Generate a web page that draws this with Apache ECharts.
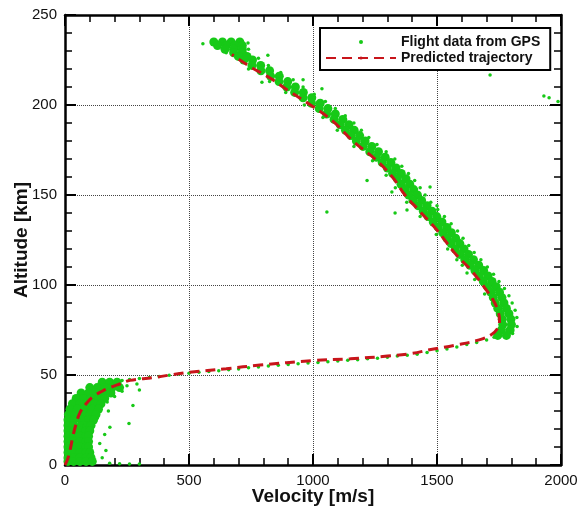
<!DOCTYPE html>
<html>
<head>
<meta charset="utf-8">
<script src="https://cdn.jsdelivr.net/npm/echarts@6/dist/echarts.min.js"></script>
<style>
  html, body { margin: 0; padding: 0; background: #fff; }
  #chart { width: 579px; height: 508px; }
</style>
</head>
<body>
<div id="chart"></div>
<script>
// predicted trajectory [velocity m/s, altitude km]
var predicted = [
  [0,0],[10,3],[20,8],[32,16],[45,23],[60,29],[85,34],[113,38],[150,41],[181,43],[220,45],[262,47],
  [355,48.5],[423,50],[500,51.5],[650,53.5],[786,55.5],[1000,58],[1150,59],[1300,60.5],[1400,62],
  [1470,64],[1570,66.5],[1670,69.5],[1720,72.5],[1745,76],[1752,80],[1745,86],[1725,92],[1700,97],
  [1645,107],[1570,118],[1500,130.5],[1430,141],[1371,150],[1320,160],[1250,170],[1160,180],
  [1080,191],[990,200],[900,208],[827,215],[750,221],[673,228]
];

// GPS points, dense part of the cloud
var gpsDense = [
  [600,235],[635,235],[670,235],[705,235],[615,233],[650,233],[685,233],[715,233],
  [645,231],[680,231],[715,231],[680,229],[715,229],[699,227],[734,227],[721,225],[756,225],
  [754,222],[789,222],[790,219],[825,219],[829,216],[864,216],[863,213],[898,213],
  [894,210],[929,210],[926,207],[961,207],[960,204],[995,204],[994,201],[1029,201],
  [1025,198],[1060,198],[1055,195],[1090,195],[1085,192],[1120,192],[1110,189],[1145,189],
  [1131,186],[1166,186],[1153,183],[1188,183],[1175,180],[1210,180],[1202,177],[1237,177],
  [1229,174],[1264,174],[1256,171],[1291,171],[1279,168],[1314,168],[1300,165],[1335,165],
  [1321,162],[1356,162],[1340,159],[1375,159],[1355,156],[1390,156],[1371,153],[1406,153],
  [1386,150],[1421,150],[1403,147],[1438,147],[1425,144],[1460,144],[1445,141],[1480,141],
  [1464,138],[1499,138],[1485,135],[1520,135],[1505,132],[1540,132],[1523,129],[1558,129],
  [1540,126],[1575,126],[1557,123],[1592,123],[1574,120],[1609,120],[1592,117],[1627,117],
  [1612,114],[1647,114],[1633,111],[1668,111],[1653,108],[1688,108],[1671,105],[1706,105],
  [1687,102],[1722,102],[1704,99],[1739,99],[1717,96],[1752,96],[1727,93],[1762,93],
  [1735,90],[1770,90],[1745,87],[1780,87],[1755,84],[1790,84],[1763,81],[1798,81],
  [1765,78],[1800,78],[1760,75],[1795,75],[1745,72],[1780,72],
  [150,46],[180,46],[210,46],
  [100,43],[130,43],[160,43],[190,43],[220,43],
  [65,40],[95,40],[125,40],[155,40],[185,40],
  [45,37],[75,37],[105,37],[135,37],[160,37],
  [30,34],[60,34],[90,34],[120,34],[145,34],
  [20,31],[50,31],[80,31],[110,31],[135,31],
  [14,28],[40,28],[70,28],[100,28],[125,28],
  [12,25],[35,25],[65,25],[95,25],[115,25],
  [12,22],[35,22],[65,22],[90,22],[105,22],
  [12,19],[35,19],[60,19],[85,19],[100,19],
  [12,16],[35,16],[60,16],[85,16],[95,16],
  [12,13],[35,13],[60,13],[85,13],[95,13],
  [12,10],[35,10],[60,10],[85,10],[95,10],
  [12,7],[35,7],[60,7],[85,7],[100,7],
  [12,4],[35,4],[60,4],[85,4],[105,4],
  [12,2],[35,2],[60,2],[85,2],[110,2]
];

// GPS points, scattered ones
var gpsSparse = [
  [556,234],[738,234.5],[818,227.7],[794,212.6],[960,214],[1036,209],[1056,140.5],[1218,158],
  [1318,151.7],[1331,140],[1379,141.7],[1472,154.4],[1500,144],[1621,106.7],[1580,114],
  [1714,216.7],[1931,205],[1952,204],[1988,202],
  [650,229],[740,220],[825,213],[890,207],[965,200],[1040,193],[1098,186],[1165,177],
  [1240,169],[1295,161],[1332,154],[1378,146],[1432,138],[1497,128],[1543,120],[1602,111],
  [1652,103],[1692,95],
  [740,231],[780,226],[820,222],[870,218],[920,214],[960,210],[1005,206],[1050,202],
  [1090,198],[1130,194],[1165,190],[1195,186],[1225,182],[1258,178],[1295,174],[1330,170],
  [1358,166],[1385,162],[1410,158],[1432,154],[1452,150],[1475,146],[1503,142],[1530,138],
  [1557,134],[1583,130],[1605,126],[1628,122],[1650,118],[1677,114],[1703,110],[1728,106],
  [1750,102],[1772,98],[1790,94],[1803,90],[1815,86],[1822,82],[1823,77],[1805,73],
  [1730,71],[1700,69.5],[1660,68],[1620,67],[1580,65.5],[1540,64.5],[1500,63.5],[1460,62.5],
  [1420,61.5],[1380,61],[1340,60.5],[1300,59.8],[1260,59.3],[1220,59],[1180,58.5],[1140,58.2],
  [1100,57.8],[1060,57.4],[1020,57],[980,56.6],[940,56.2],[900,55.8],[860,55.4],[820,55],
  [780,54.5],[740,54],[700,53.4],[660,52.9],[620,52.4],[580,52],[540,51.5],[500,51],
  [460,50.5],[420,49.8],[380,49.2],[340,48.6],[300,48],[260,47.5],[230,47],
  [290,45],[250,44],[300,41.6],[274,33],[181,21],[165,8],[258,23],[200,38],[230,41],
  [175,30],[160,17],[140,12],[150,4],[180,1],[220,0.7],[260,0.5],[300,0.5],[130,26],
  [170,35],[150,44.5]
];

var xTicks = [0, 2000, 500];
var yTicks = [0, 250, 50];

var green = '#17c917';
var red = '#c8151b';
var font = 'Liberation Sans, Arial, sans-serif';

var myChart = echarts.init(document.getElementById('chart'));

function valueAxis(ticks, pos, main) {
  return {
    type: 'value',
    position: pos,
    min: ticks[0],
    max: ticks[1],
    interval: ticks[2],
    axisLine: { show: true, onZero: false, lineStyle: { color: '#000', width: 2.5 } },
    axisTick: { show: true, inside: true, length: 11, lineStyle: { color: '#000', width: 2 } },
    minorTick: { show: true, splitNumber: 5, length: 7, lineStyle: { color: '#000', width: 1.5 } },
    axisLabel: {
      show: main, color: '#111', fontSize: 15, fontFamily: font, margin: 8,
      formatter: function (v) { return String(v); }
    },
    splitLine: { show: main, lineStyle: { color: '#444', type: 'dotted', width: 1 } }
  };
}

var xMain = valueAxis(xTicks, 'bottom', true);
xMain.name = 'Velocity [m/s]';
xMain.nameLocation = 'middle';
xMain.nameGap = 22;
xMain.nameMoveOverlap = false;
xMain.nameTextStyle = { color: '#111', fontSize: 19, fontWeight: 'bold', fontFamily: font };

var yMain = valueAxis(yTicks, 'left', true);
yMain.name = 'Altitude [km]';
yMain.nameLocation = 'middle';
yMain.nameGap = 34;
yMain.nameMoveOverlap = false;
yMain.nameTextStyle = { color: '#111', fontSize: 19, fontWeight: 'bold', fontFamily: font };

var option = {
  animation: false,
  backgroundColor: '#fff',
  grid: { left: 65, right: 18, top: 15, bottom: 43, containLabel: false, outerBoundsMode: 'none' },
  xAxis: [xMain, valueAxis(xTicks, 'top', false)],
  yAxis: [yMain, valueAxis(yTicks, 'right', false)],
  legend: {
    orient: 'vertical',
    left: 320,
    top: 28,
    padding: [7, 10, 5, 5],
    itemGap: 2,
    itemWidth: 70,
    itemHeight: 4,
    backgroundColor: '#fff',
    borderColor: '#000',
    borderWidth: 2,
    textStyle: { color: '#111', fontSize: 14, fontWeight: 'bold', fontFamily: font },
    data: ['Flight data from GPS', 'Predicted trajectory']
  },
  series: [
    {
      name: 'Flight data from GPS',
      type: 'scatter',
      data: gpsSparse,
      symbolSize: 3.5,
      itemStyle: { color: green, opacity: 1 },
      z: 2
    },
    {
      name: 'Flight data from GPS',
      type: 'scatter',
      data: gpsDense,
      symbolSize: 9,
      itemStyle: { color: green, opacity: 1 },
      z: 2
    },
    {
      name: 'Predicted trajectory',
      type: 'line',
      data: predicted,
      smooth: 0.4,
      symbol: 'none',
      lineStyle: { color: red, width: 3, type: [10, 6] },
      itemStyle: { color: red },
      z: 3
    }
  ]
};

myChart.setOption(option);
</script>
</body>
</html>
